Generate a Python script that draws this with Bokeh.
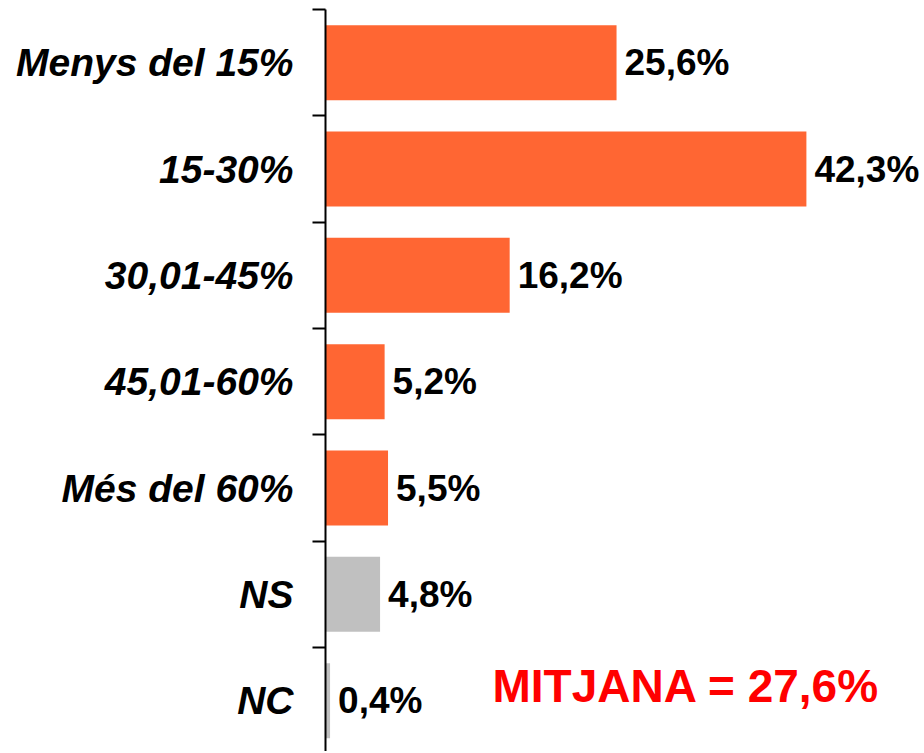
from bokeh.plotting import figure
from bokeh.models import ColumnDataSource, Range1d, FixedTicker, Label
from bokeh.embed import file_html
from bokeh.resources import INLINE
from bokeh.core.properties import value

categories = ["Menys del 15%", "15-30%", "30,01-45%", "45,01-60%", "Més del 60%", "NS", "NC"]
values = [25.6, 42.3, 16.2, 5.2, 5.5, 4.8, 0.4]
groups = ["main", "main", "main", "main", "main", "other", "other"]
group_colors = {"main": "#FF6633", "other": "#C0C0C0"}
mean_label = "MITJANA = 27,6%"

centers = [i + 0.5 for i in range(len(categories))]
bounds = [float(i) for i in range(len(categories) + 1)]
labels = [("%.1f%%" % v).replace(".", ",") for v in values]
colors = [group_colors[g] for g in groups]

src = ColumnDataSource(dict(y=centers, v=values, lab=labels, c=colors))

p = figure(width=923, height=751, output_backend="svg", toolbar_location=None,
           x_range=Range1d(0, 52.6), y_range=Range1d(6.978, 0),
           min_border_left=325, min_border_right=0, min_border_top=9, min_border_bottom=0)
p.outline_line_color = None
p.xgrid.visible = False
p.ygrid.visible = False
p.xaxis.visible = False
p.background_fill_color = "white"

p.hbar(y="y", right="v", left=0, height=0.705, color="c", line_color=None, source=src)
p.text(x="v", y="y", text="lab", source=src, x_offset=8,
       text_font=value("Liberation Sans"), text_font_style="bold",
       text_font_size="37px", text_baseline="middle", text_align="left", text_color="black")

ax = p.yaxis[0]
ax.ticker = FixedTicker(ticks=centers, minor_ticks=bounds)
ax.major_label_overrides = {c: lab for c, lab in zip(centers, categories)}
ax.major_tick_out = 0
ax.major_tick_in = 0
ax.minor_tick_out = 13
ax.minor_tick_in = 0
ax.minor_tick_line_width = 2
ax.minor_tick_line_color = "black"
ax.axis_line_width = 2
ax.axis_line_color = "black"
ax.major_label_standoff = 19
ax.major_label_text_font = "Liberation Sans"
ax.major_label_text_font_style = "bold italic"
ax.major_label_text_font_size = "39px"
ax.major_label_text_color = "black"

p.add_layout(Label(x=14.69, y=6.364, text=mean_label, text_color="#FF0000",
                   text_font="Liberation Sans", text_font_style="bold",
                   text_font_size="46px", text_baseline="middle", text_align="left"))

open("out.html", "w").write(file_html(p, INLINE))
